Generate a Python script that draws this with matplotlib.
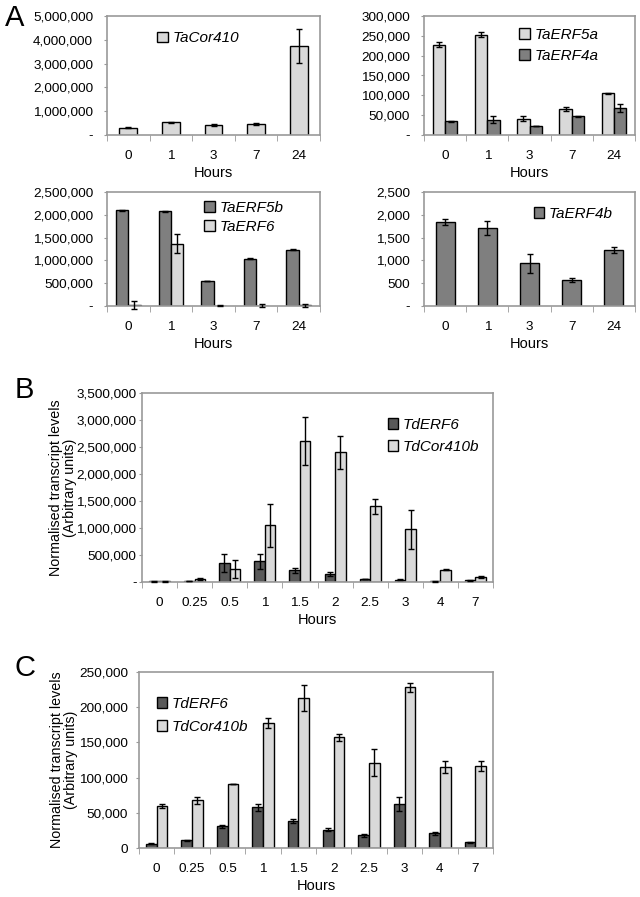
import numpy as np
import matplotlib
matplotlib.use("Agg")
import matplotlib.pyplot as plt
from matplotlib.ticker import FuncFormatter, MultipleLocator

plt.rcParams['font.family'] = ['Liberation Sans', 'DejaVu Sans']

W, H = 640, 897
LIGHT = '#d9d9d9'
DARK_A = '#7f7f7f'
DARK_B = '#595959'
FRAME = '#999999'
FS = 9.7

# panel A data
hours_a = ['0', '1', '3', '7', '24']
ta_cor410 = [300000, 530000, 420000, 470000, 3730000]
ta_cor410_err = [20000, 30000, 60000, 40000, 720000]
ta_erf5a = [228000, 253000, 41000, 65000, 105000]
ta_erf5a_err = [6000, 6000, 6000, 5000, 1500]
ta_erf4a = [35000, 38000, 23000, 47000, 68000]
ta_erf4a_err = [1000, 9000, 500, 1000, 9000]
ta_erf5b = [2100000, 2080000, 550000, 1040000, 1230000]
ta_erf5b_err = [10000, 10000, 5000, 10000, 10000]
ta_erf6 = [20000, 1370000, 10000, 10000, 15000]
ta_erf6_err = [80000, 210000, 8000, 25000, 30000]
ta_erf4b = [1840, 1710, 940, 570, 1230]
ta_erf4b_err = [60, 160, 210, 40, 60]

# panels B and C data
hours_bc = ['0', '0.25', '0.5', '1', '1.5', '2', '2.5', '3', '4', '7']
b_erf6 = [10000, 20000, 350000, 380000, 220000, 150000, 55000, 40000, 10000, 30000]
b_erf6_err = [3000, 5000, 160000, 130000, 45000, 30000, 5000, 10000, 3000, 5000]
b_cor410b = [10000, 60000, 240000, 1050000, 2610000, 2400000, 1400000, 980000, 230000, 100000]
b_cor410b_err = [3000, 20000, 160000, 400000, 450000, 300000, 140000, 360000, 5000, 20000]
c_erf6 = [6000, 11000, 31000, 58000, 38000, 26000, 18000, 62000, 21000, 8000]
c_erf6_err = [500, 1000, 2000, 5000, 2500, 2500, 2000, 10000, 2000, 500]
c_cor410b = [60000, 68000, 91000, 178000, 213000, 157000, 121000, 228000, 115000, 116000]
c_cor410b_err = [3000, 5000, 0, 7000, 19000, 5000, 19000, 6000, 8000, 7000]

fig = plt.figure(figsize=(W / 100, H / 100), dpi=100)


def make_ax(l, t, r, b):
    return fig.add_axes([l / W, 1 - b / H, (r - l) / W, (b - t) / H])


def style(ax, cats, ymax, step, zero='-', ypad=8):
    n = len(cats)
    ax.set_xlim(-0.5, n - 0.5)
    ax.set_ylim(0, ymax)
    ax.yaxis.set_major_locator(MultipleLocator(step))
    ax.yaxis.set_major_formatter(FuncFormatter(
        lambda v, p: zero if v == 0 else '{:,.0f}'.format(v)))
    ax.set_xticks(range(n))
    ax.set_xticklabels(cats)
    ax.set_xticks(np.arange(-0.5, n), minor=True)
    ax.tick_params(axis='x', which='major', length=0, pad=11, labelsize=FS)
    ax.tick_params(axis='x', which='minor', length=4, color=FRAME, direction='out')
    ax.tick_params(axis='y', length=2, color=FRAME, labelsize=FS, pad=ypad)
    for s in ax.spines.values():
        s.set_color(FRAME)
        s.set_linewidth(1.2)
    ax.set_xlabel('Hours', fontsize=10.5, labelpad=3)


def bars(ax, x, vals, errs, color, width, label):
    ax.bar(x, vals, width, color=color, edgecolor='black', linewidth=1,
           label=label, zorder=2)
    ax.errorbar(x, vals, yerr=errs, fmt='none', ecolor='black', elinewidth=1,
                capsize=2.5, capthick=1, clip_on=False, zorder=3)


def legend(ax, x, y, spacing=0.45):
    ax.legend(loc='upper left', bbox_to_anchor=(x, y), frameon=False,
              handlelength=0.7, handleheight=0.7, handletextpad=0.3,
              labelspacing=spacing, borderaxespad=0, borderpad=0,
              prop={'style': 'italic', 'size': 11})


xa = np.arange(len(hours_a))
xb = np.arange(len(hours_bc))

# A top-left
ax1 = make_ax(107, 16, 320, 135)
bars(ax1, xa, ta_cor410, ta_cor410_err, LIGHT, 0.42, 'TaCor410')
style(ax1, hours_a, 5000000, 1000000)
legend(ax1, 0.235, 0.87)

# A top-right
ax2 = make_ax(424, 16, 635, 135)
bars(ax2, xa - 0.145, ta_erf5a, ta_erf5a_err, LIGHT, 0.29, 'TaERF5a')
bars(ax2, xa + 0.145, ta_erf4a, ta_erf4a_err, DARK_A, 0.29, 'TaERF4a')
style(ax2, hours_a, 300000, 50000)
legend(ax2, 0.45, 0.9, 0.45)

# A bottom-left
ax3 = make_ax(107, 192, 320, 306)
bars(ax3, xa - 0.145, ta_erf5b, ta_erf5b_err, DARK_A, 0.29, 'TaERF5b')
bars(ax3, xa + 0.145, ta_erf6, ta_erf6_err, LIGHT, 0.29, 'TaERF6')
style(ax3, hours_a, 2500000, 500000)
legend(ax3, 0.455, 0.92, 0.3)

# A bottom-right
ax4 = make_ax(424, 192, 635, 306)
bars(ax4, xa, ta_erf4b, ta_erf4b_err, DARK_A, 0.45, 'TaERF4b')
style(ax4, hours_a, 2500, 500)
legend(ax4, 0.52, 0.87)

# B
ax5 = make_ax(142, 393, 493, 582)
bars(ax5, xb - 0.15, b_erf6, b_erf6_err, DARK_B, 0.3, 'TdERF6')
bars(ax5, xb + 0.15, b_cor410b, b_cor410b_err, LIGHT, 0.3, 'TdCor410b')
style(ax5, hours_bc, 3500000, 500000, ypad=2)
legend(ax5, 0.70, 0.87, 0.55)
ax5.set_ylabel('Normalised transcript levels\n(Arbitrary units)', fontsize=10.3,
               linespacing=1.0)
ax5.yaxis.set_label_coords(-0.185, 0.5)

# C
ax6 = make_ax(139, 672, 493, 848)
bars(ax6, xb - 0.15, c_erf6, c_erf6_err, DARK_B, 0.3, 'TdERF6')
bars(ax6, xb + 0.15, c_cor410b, c_cor410b_err, LIGHT, 0.3, 'TdCor410b')
style(ax6, hours_bc, 250000, 50000, zero='0', ypad=6)
legend(ax6, 0.05, 0.86, 0.6)
ax6.set_ylabel('Normalised transcript levels\n(Arbitrary units)', fontsize=10.3,
               linespacing=1.0)
ax6.yaxis.set_label_coords(-0.172, 0.5)

fig.text(5 / W, 1 - 18 / H, 'A', fontsize=21, va='center', ha='left')
fig.text(15 / W, 1 - 390 / H, 'B', fontsize=21, va='center', ha='left')
fig.text(15 / W, 1 - 668 / H, 'C', fontsize=21, va='center', ha='left')

fig.savefig('out.png', dpi=100)
